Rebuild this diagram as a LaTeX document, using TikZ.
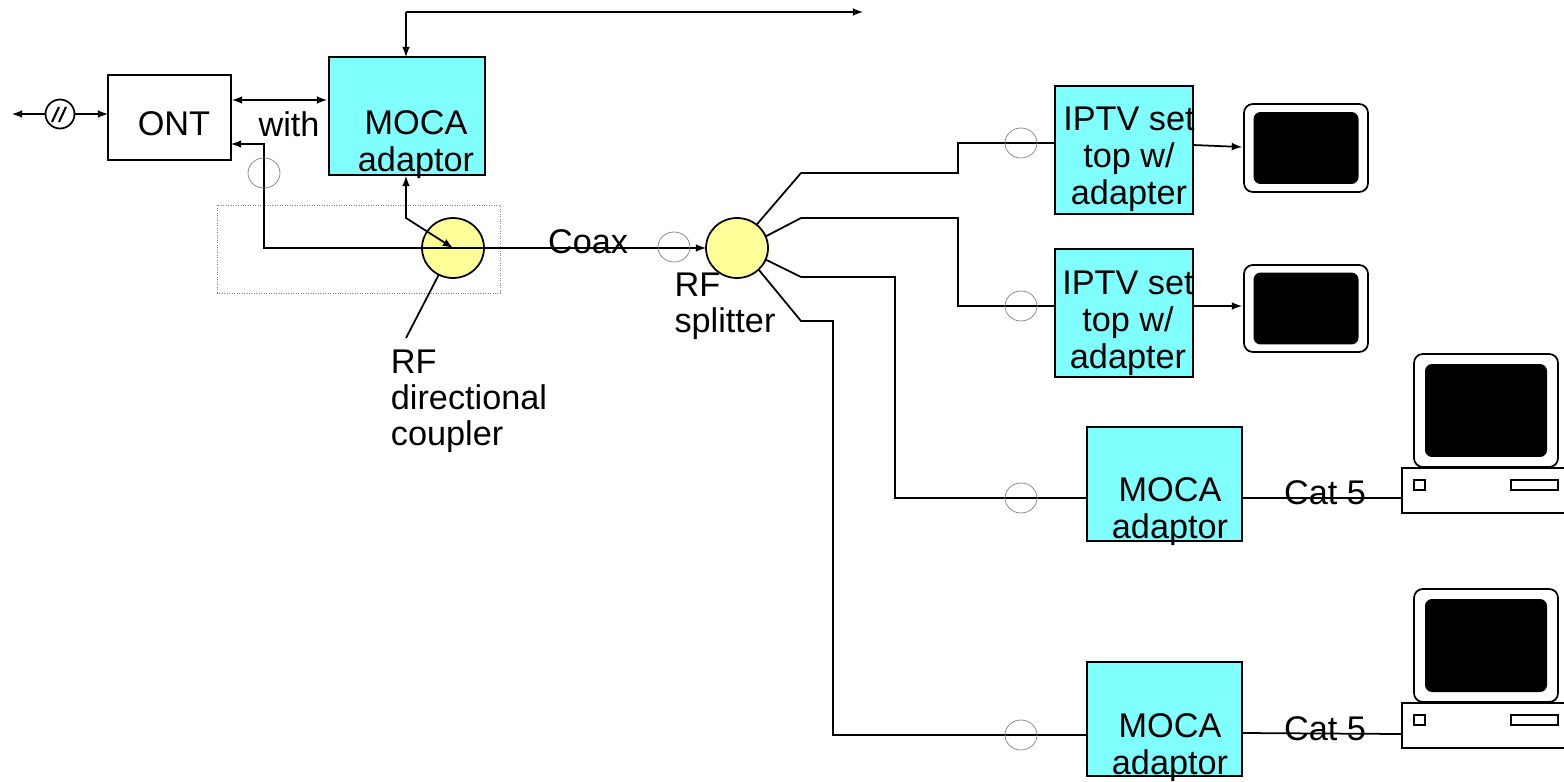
\documentclass[tikz,border=0pt]{standalone}
\usepackage{fontspec}
\setmainfont{Liberation Sans}
\usetikzlibrary{arrows.meta,calc,positioning}
\usetikzlibrary{shapes.geometric}
\definecolor{adaptcyan}{rgb}{0.5,1,1}
\definecolor{tapyellow}{rgb}{1,1,0.6}
\tikzset{
  boxnode/.style={draw=black,line width=1pt,rectangle,inner sep=0pt,outer sep=0pt},
  adaptnode/.style={boxnode,fill=adaptcyan},
  rfnode/.style={draw=black,line width=1pt,fill=tapyellow,ellipse,inner sep=0pt,outer sep=0pt,minimum width=1.24cm,minimum height=1.2cm},
  tapnode/.style={draw=gray,line width=0.4pt,ellipse,inner sep=0pt,outer sep=0pt,minimum width=0.64cm,minimum height=0.6cm},
  screennode/.style={draw=black,line width=1pt,fill=white,rounded corners=5pt,inner sep=0pt,outer sep=0pt},
  blacknode/.style={fill=black,rounded corners=4pt,inner sep=0pt,outer sep=0pt},
  txt/.style={inner sep=0pt,outer sep=0pt,font=\fontsize{19.5}{20.5}\selectfont},
  txtwide/.style={inner sep=0pt,outer sep=0pt,font=\fontsize{19.5}{21}\selectfont},
  link/.style={line width=1pt},
}
\begin{document}
\begin{tikzpicture}[x=0.02cm,y=-0.02cm]
        \useasboundingbox (0,0) rectangle (1564,781);
        \clip (0,0) rectangle (1564,781);
        % dotted frame round the coupler
        \node[draw=gray,densely dotted,line width=0.4pt,inner sep=0pt,outer sep=0pt,minimum width=5.66cm,minimum height=1.76cm] (frame) at (358.5,249) {};
        % boxes
        \node[boxnode,minimum width=2.46cm,minimum height=1.7cm] (ont) at (169.5,117.5) {};
        \node[adaptnode,minimum width=3.12cm,minimum height=2.36cm] (moca) at (407,116) {};
        \node[adaptnode,minimum width=2.76cm,minimum height=2.56cm] (iptva) at (1124,150) {};
        \node[adaptnode,minimum width=2.76cm,minimum height=2.56cm] (iptvb) at (1124,313) {};
        \node[adaptnode,minimum width=3.1cm,minimum height=2.28cm] (mocaa) at (1164.5,484) {};
        \node[adaptnode,minimum width=3.1cm,minimum height=2.28cm] (mocab) at (1164.5,719) {};
        % rf parts
        \node[rfnode] (coupler) at (453,248) {};
        \node[rfnode] (split) at (737,248) {};
        % television screens
        \node[screennode,minimum width=2.48cm,minimum height=1.76cm] (tva) at (1306,148) {};
        \node[blacknode,minimum width=2.1cm,minimum height=1.44cm] at (tva) {};
        \node[screennode,minimum width=2.48cm,minimum height=1.74cm] (tvb) at (1306,308.5) {};
        \node[blacknode,minimum width=2.1cm,minimum height=1.44cm] at (tvb) {};
        % computers
        \foreach \n/\dy in {a/0,b/235}{
          \node[screennode,minimum width=2.88cm,minimum height=2.26cm] (pc\n) at (1486,410.5+\dy) {};
          \node[blacknode,minimum width=2.44cm,minimum height=1.86cm] at (pc\n) {};
          \node[boxnode,fill=white,minimum width=3.56cm,minimum height=0.9cm] (base\n) at (1491,490.5+\dy) {};
          \node[boxnode,minimum width=0.22cm,minimum height=0.2cm] at (1419.5,485+\dy) {};
          \node[boxnode,minimum width=0.94cm,minimum height=0.2cm] at (1534.5,485+\dy) {};
        }
        % fibre side
        \coordinate (fibreend) at (12,114);
        \node[draw=black,line width=1pt,circle,inner sep=0pt,outer sep=0pt,minimum size=0.58cm] (fibre) at (60,114) {};
        \draw[line width=1.2pt] ($(fibre)+(-8,8)$) -- ($(fibre)+(-1,-7)$);
        \draw[line width=1.2pt] ($(fibre)+(-1,8)$) -- ($(fibre)+(6,-7)$);
        \draw[link,-latex] (fibre.west) -- (fibreend);
        \draw[link,-latex] (fibre.east) -- (ont.west |- fibre);
        % top line
        \coordinate (topcorner) at (406,12);
        \coordinate (topend) at (863,12);
        \draw[link,-latex] (topcorner) -- (topend);
        \draw[link,-latex] (topcorner) -- (topcorner |- moca.north);
        % ont side
        \draw[link,latex-latex] (232,100) -- (327,100);
        \draw[link,-latex] (coupler.center) -- (264,248) -- (264,144) -- (ont.east |- 0,144);
        \draw[link,latex-latex] (406,176) -- (406,218) -- (coupler.center);
        \draw[link,-latex] (coupler.center) -- (split.west);
        \draw[link] (coupler.242) -- (406,338);
        % splitter legs
        \draw[link] (split.50) -- (801,173) -- (958,173) -- (958,143) -- (iptva.west |- 0,143);
        \draw[link] (split.22) -- (801,218) -- (958,218) -- (958,306) -- (iptvb.west |- 0,306);
        \draw[link] (split.-22) -- (801,277) -- (895,277) -- (895,498) -- (mocaa.west |- 0,498);
        \draw[link] (split.-45) -- (801,321) -- (833,321) -- (833,735) -- (mocab.west |- 0,735);
        % screens and computers
        \draw[link,-latex] (iptva.east |- 0,145) -- (1242,147);
        \draw[link,-latex] (iptvb.east |- 0,306) -- (1242,306);
        \draw[link] (mocaa.east |- 0,498) -- (basea.west |- 0,498);
        \draw[link] (mocab.east |- 0,733) -- (baseb.west |- 0,734);
        % taps
        \node[tapnode] (tapa) at (264,173) {};
        \node[tapnode] (tapb) at (674,247) {};
        \node[tapnode] (tapc) at (1021,143) {};
        \node[tapnode] (tapd) at (1021,306) {};
        \node[tapnode] (tape) at (1021,498) {};
        \node[tapnode] (tapf) at (1021,735) {};
        % labels
        \node[txt] (ontlbl) at (174,124) {ONT};
        \node[txtwide,align=center] (mocalbl) at (416,144.5) {MOCA\\adaptor};
        \node[txt] (withlbl) at (289,124) {with};
        \node[txt] (coaxlbl) at (588,242) {Coax};
        \node[txt,align=left] (rflbl) at (469,401.5) {RF\\directional\\coupler};
        \node[txt,align=left] (splitlbl) at (725,306.5) {RF\\splitter};
        \node[txtwide,align=center] (iptvalbl) at (1129,159.5) {IPTV set\\top w/\\adapter};
        \node[txtwide,align=center] (iptvblbl) at (1128,323) {IPTV set\\top w/\\adapter};
        \node[txtwide,align=center] (mocaalbl) at (1170,511.5) {MOCA\\adaptor};
        \node[txtwide,align=center] (mocablbl) at (1170,748) {MOCA\\adaptor};
        \node[txt] (cata) at (1325,493) {Cat 5};
        \node[txt] (catb) at (1325,729) {Cat 5};
\end{tikzpicture}
\end{document}
